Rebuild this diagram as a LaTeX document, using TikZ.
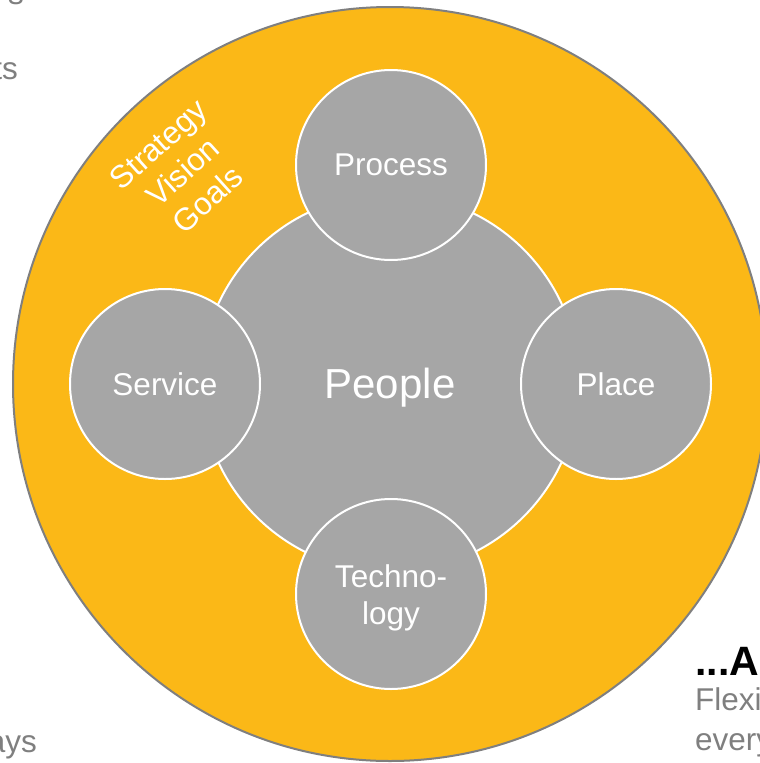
\documentclass[tikz,border=0pt]{standalone}
\usepackage{fontspec}
\setmainfont{Liberation Sans}
\usetikzlibrary{positioning}

\definecolor{ringorange}{HTML}{FBB817}
\definecolor{hubgray}{HTML}{A6A6A6}
\definecolor{notegray}{HTML}{7F7F7F}

\begin{document}
\begin{tikzpicture}[
			x=1pt, y=-1pt,
			every node/.style={font=\fontsize{31.5}{37}\selectfont},
			ring/.style={
				circle, draw=notegray, line width=2pt, fill=ringorange,
				minimum size=754pt, inner sep=0pt
			},
			hub/.style={
				circle, draw=white, line width=2pt, fill=hubgray, text=white,
				minimum size=378pt, inner sep=0pt, align=center
			},
			spoke/.style={hub, minimum size=190pt},
			aside/.style={text=notegray, inner sep=0pt}
			]
			\clip (0,0) rectangle (760,763);
			
			% outer ring and its words
			\node[ring] (ring) at (390,384) {};
			\node[rotate=42, align=center, text=white, inner sep=0pt] (aims) at (183,172) {Strategy\\Vision\\Goals};
			
			% people in the middle, the four others round it
			\node[hub, font=\fontsize{42}{48}\selectfont, text depth=0pt] (people) at (390,383) {People};
			\node[spoke] (process) at (391,165) {Process};
			\node[spoke] (service) at (165,384) {Service};
			\node[spoke] (place) at (616,384) {Place};
			\node[spoke] (tech) at (391,594) {};
			\node[white, align=center, inner sep=0pt] (techlabel) at ([yshift=-4pt]tech.center) {Techno-\\logy};
			
			% text running in from the sides
			\node[aside, anchor=base east] (notea) at (24,4) {s};
			\node[aside, anchor=base east] (noteb) at (18,79) {ts};
			\node[aside, anchor=base east] (notec) at (37,752) {ays};
			\node[anchor=base west, inner sep=0pt, font=\fontsize{41}{46}\selectfont\bfseries] (head) at (695,675) {...A};
			\node[aside, anchor=base west] (lineone) at (695,710) {Flexi};
			\node[aside, anchor=base west] (linetwo) at (695,750) {every};
		\end{tikzpicture}
\end{document}
